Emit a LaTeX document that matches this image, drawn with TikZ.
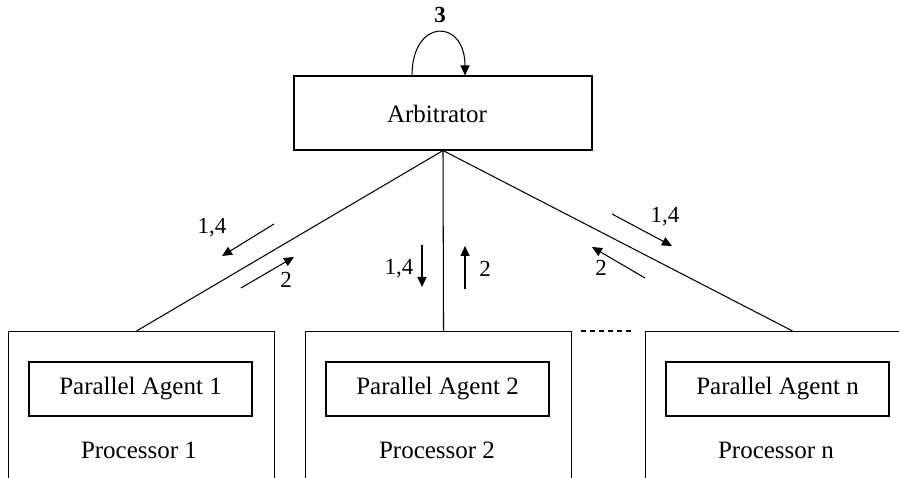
\documentclass[tikz,border=0pt]{standalone}
\usepackage{fontspec}
\setmainfont{Liberation Serif}
\usetikzlibrary{arrows.meta,positioning,calc}
\begin{document}
\begin{tikzpicture}[x=1pt,y=-1pt,
  line width=1.05pt,
  box/.style={draw, rectangle, inner sep=0pt, font=\fontsize{25}{30}\selectfont},
  txt/.style={inner sep=0pt, font=\fontsize{25}{30}\selectfont},
  lbl/.style={inner sep=0pt, font=\fontsize{23}{27}\selectfont},
  tip/.style={-{Triangle[length=10pt,width=9pt]}}]
\useasboundingbox (0,0) rectangle (899,478);
\clip (0,0) rectangle (899,478);
% arbitrator
\node[box, minimum width=298pt, minimum height=74pt] (arb) at (443,113) {};
\node[txt] (arbt) at (437,114) {Arbitrator};
% processors
\node[box, minimum width=266pt, minimum height=200pt, anchor=north west] (p1) at (8,331) {};
\node[box, minimum width=266pt, minimum height=200pt, anchor=north west] (p2) at (305,331) {};
\node[box, minimum width=266pt, minimum height=200pt, anchor=north west] (pn) at (645,331) {};
% agents
\node[box, minimum width=223pt, minimum height=54pt] (a1) at (140.5,389) {Parallel Agent 1};
\node[box, minimum width=223pt, minimum height=54pt] (a2) at (437.5,389) {Parallel Agent 2};
\node[box, minimum width=223pt, minimum height=54pt] (an) at (777.5,389) {Parallel Agent n};
\node[txt] (pt1) at (139,450) {Processor 1};
\node[txt] (pt2) at (437,450) {Processor 2};
\node[txt] (ptn) at (776,450) {Processor n};
% connectors
\draw (arb.south) -- ([xshift=-5pt]p1.north);
\draw (arb.south) -- ([xshift=5pt]p2.north);
\draw (arb.south) -- ([xshift=14pt]pn.north);
\draw[dashed, dash pattern=on 5pt off 4pt] ([xshift=9pt]p2.north east) -- ([xshift=-10pt]pn.north west);
% self loop
\draw[tip] ([xshift=-31pt]arb.north) .. controls (412,18) and (465,18) .. ([xshift=22pt]arb.north);
\node[lbl, font=\fontsize{23}{27}\selectfont\bfseries] (l3) at (440,15) {3};
% message arrows
\draw[tip] (274,224) -- (222,256);
\node[lbl] (l14a) at (212,228) {1,4};
\draw[tip] (241,288) -- (294,257);
\node[lbl] (l2a) at (286,280) {2};
\draw[tip] (422,245) -- (422,287);
\node[lbl] (l14b) at (399,269) {1,4};
\draw[tip] (465,289) -- (465,246);
\node[lbl] (l2b) at (485,269) {2};
\draw[tip] (612,214) -- (672,246);
\node[lbl] (l14c) at (665,217) {1,4};
\draw[tip] (645,278) -- (592,247);
\node[lbl] (l2c) at (601,268) {2};
\end{tikzpicture}
\end{document}
